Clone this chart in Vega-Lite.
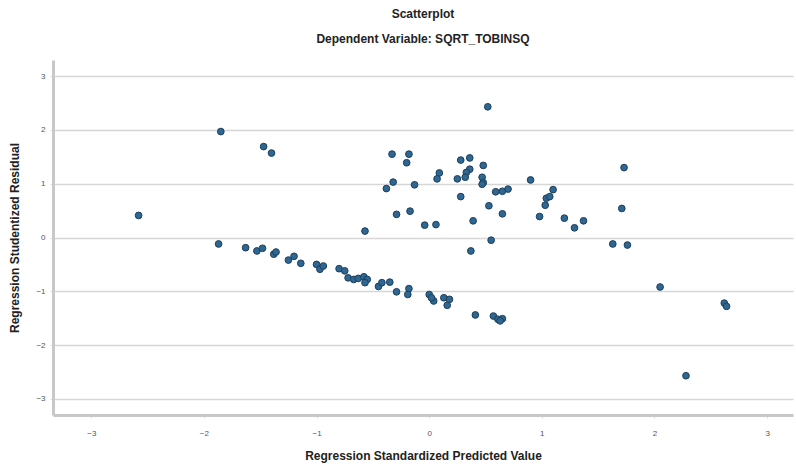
{
  "$schema": "https://vega.github.io/schema/vega-lite/v6.json",
  "autosize": {"type": "none"},
  "width": 740,
  "height": 355,
  "padding": {"left": 53, "top": 60, "right": 3, "bottom": 51},
  "background": "white",
  "title": {
    "text": "Scatterplot",
    "subtitle": "Dependent Variable: SQRT_TOBINSQ",
    "font": "Liberation Sans",
    "fontSize": 12,
    "fontWeight": "bold",
    "color": "#222222",
    "subtitleFont": "Liberation Sans",
    "subtitleFontSize": 12,
    "subtitleFontWeight": "bold",
    "subtitleColor": "#222222",
    "subtitlePadding": 13,
    "anchor": "middle",
    "offset": 14
  },
  "config": {
    "view": {"stroke": null},
    "axis": {
      "labelFont": "Liberation Sans",
      "titleFont": "Liberation Sans",
      "labelFontSize": 8,
      "labelColor": "#555555",
      "titleFontSize": 12,
      "titleFontWeight": "bold",
      "titleColor": "#222222",
      "domainColor": "#c8c8c8",
      "domainWidth": 3,
      "tickColor": "#dddddd",
      "gridColor": "#d6d6d6",
      "gridWidth": 1.5
    }
  },
  "data": {
    "values": [
      {"pred": -2.58, "resid": 0.41},
      {"pred": -1.85, "resid": 1.97},
      {"pred": -1.47, "resid": 1.69},
      {"pred": -1.40, "resid": 1.57},
      {"pred": -0.57, "resid": 0.12},
      {"pred": -0.33, "resid": 1.55},
      {"pred": -0.32, "resid": 1.03},
      {"pred": -0.38, "resid": 0.91},
      {"pred": -0.29, "resid": 0.43},
      {"pred": -0.18, "resid": 1.55},
      {"pred": -0.20, "resid": 1.39},
      {"pred": -0.13, "resid": 0.98},
      {"pred": -0.17, "resid": 0.49},
      {"pred": -0.04, "resid": 0.23},
      {"pred": 0.06, "resid": 0.24},
      {"pred": 0.09, "resid": 1.20},
      {"pred": 0.07, "resid": 1.09},
      {"pred": 0.28, "resid": 1.44},
      {"pred": 0.36, "resid": 1.48},
      {"pred": 0.48, "resid": 1.34},
      {"pred": 0.36, "resid": 1.27},
      {"pred": 0.33, "resid": 1.21},
      {"pred": 0.32, "resid": 1.12},
      {"pred": 0.25, "resid": 1.09},
      {"pred": 0.47, "resid": 1.12},
      {"pred": 0.48, "resid": 1.02},
      {"pred": 0.47, "resid": 0.99},
      {"pred": 0.52, "resid": 2.43},
      {"pred": 0.28, "resid": 0.76},
      {"pred": 0.39, "resid": 0.31},
      {"pred": 0.53, "resid": 0.59},
      {"pred": 0.55, "resid": -0.05},
      {"pred": 0.37, "resid": -0.25},
      {"pred": 0.59, "resid": 0.85},
      {"pred": 0.65, "resid": 0.86},
      {"pred": 0.70, "resid": 0.90},
      {"pred": 0.65, "resid": 0.44},
      {"pred": 0.90, "resid": 1.07},
      {"pred": 0.98, "resid": 0.39},
      {"pred": 1.03, "resid": 0.60},
      {"pred": 1.04, "resid": 0.73},
      {"pred": 1.07, "resid": 0.76},
      {"pred": 1.10, "resid": 0.89},
      {"pred": 1.20, "resid": 0.36},
      {"pred": 1.29, "resid": 0.18},
      {"pred": 1.37, "resid": 0.31},
      {"pred": 1.73, "resid": 1.30},
      {"pred": 1.71, "resid": 0.54},
      {"pred": 1.63, "resid": -0.12},
      {"pred": 1.76, "resid": -0.14},
      {"pred": 2.05, "resid": -0.92},
      {"pred": 2.62, "resid": -1.22},
      {"pred": 2.64, "resid": -1.28},
      {"pred": 2.28, "resid": -2.57},
      {"pred": -1.87, "resid": -0.12},
      {"pred": -1.63, "resid": -0.19},
      {"pred": -1.53, "resid": -0.25},
      {"pred": -1.48, "resid": -0.20},
      {"pred": -1.38, "resid": -0.31},
      {"pred": -1.36, "resid": -0.27},
      {"pred": -1.25, "resid": -0.42},
      {"pred": -1.20, "resid": -0.35},
      {"pred": -1.14, "resid": -0.48},
      {"pred": -1.00, "resid": -0.50},
      {"pred": -0.97, "resid": -0.59},
      {"pred": -0.94, "resid": -0.53},
      {"pred": -0.80, "resid": -0.58},
      {"pred": -0.75, "resid": -0.62},
      {"pred": -0.72, "resid": -0.75},
      {"pred": -0.67, "resid": -0.78},
      {"pred": -0.63, "resid": -0.76},
      {"pred": -0.58, "resid": -0.73},
      {"pred": -0.55, "resid": -0.78},
      {"pred": -0.57, "resid": -0.84},
      {"pred": -0.45, "resid": -0.91},
      {"pred": -0.42, "resid": -0.84},
      {"pred": -0.35, "resid": -0.83},
      {"pred": -0.29, "resid": -1.01},
      {"pred": -0.18, "resid": -0.95},
      {"pred": -0.19, "resid": -1.06},
      {"pred": 0.00, "resid": -1.06},
      {"pred": 0.04, "resid": -1.18},
      {"pred": 0.02, "resid": -1.12},
      {"pred": 0.13, "resid": -1.12},
      {"pred": 0.18, "resid": -1.15},
      {"pred": 0.16, "resid": -1.26},
      {"pred": 0.41, "resid": -1.44},
      {"pred": 0.57, "resid": -1.46},
      {"pred": 0.61, "resid": -1.52},
      {"pred": 0.65, "resid": -1.51},
      {"pred": 0.63, "resid": -1.55}
    ]
  },
  "mark": {"type": "point", "filled": true, "size": 45, "color": "#2e6791", "stroke": "#1e3f5c", "strokeWidth": 1, "opacity": 1},
  "encoding": {
    "x": {
      "field": "pred",
      "type": "quantitative",
      "scale": {"domain": [-3.34, 3.23], "nice": false, "zero": false},
      "axis": {
        "title": "Regression Standardized Predicted Value",
        "values": [-3, -2, -1, 0, 1, 2, 3],
        "grid": false,
        "tickSize": 3,
        "labelPadding": 11,
        "titlePadding": 13
      }
    },
    "y": {
      "field": "resid",
      "type": "quantitative",
      "scale": {"domain": [-3.3, 3.3], "nice": false, "zero": false},
      "axis": {
        "title": "Regression Studentized Residual",
        "values": [-3, -2, -1, 0, 1, 2, 3],
        "grid": true,
        "tickSize": 3,
        "labelPadding": 5,
        "titlePadding": 14
      }
    }
  }
}
